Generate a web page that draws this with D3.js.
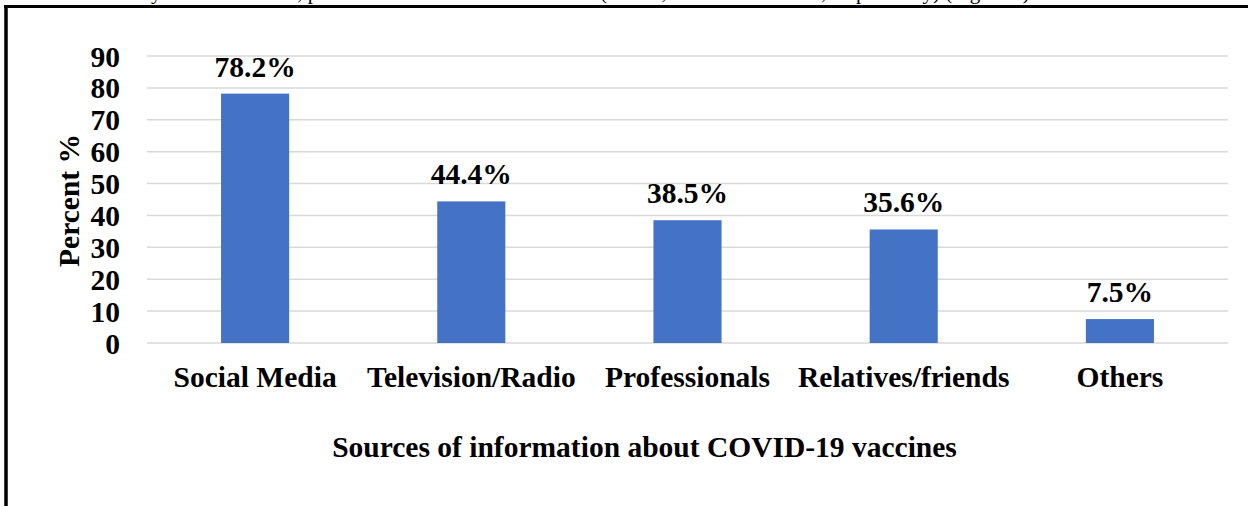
<!DOCTYPE html>
<html>
<head>
<meta charset="utf-8">
<script src="https://cdn.jsdelivr.net/npm/d3@7"></script>
<style>
html,body{margin:0;padding:0;background:#fff;}
svg{display:block;}
text{font-family:"Liberation Serif","Times New Roman",serif;font-weight:bold;fill:#000;}
</style>
</head>
<body>
<svg id="chart" width="1253" height="506"></svg>
<script>
const categories = ["Social Media", "Television/Radio", "Professionals", "Relatives/friends", "Others"];
const values = [78.2, 44.4, 38.5, 35.6, 7.5];
const valueLabels = ["78.2%", "44.4%", "38.5%", "35.6%", "7.5%"];
const yTicks = [0, 10, 20, 30, 40, 50, 60, 70, 80, 90];
const xTitle = "Sources of information about COVID-19 vaccines";
const yTitle = "Percent %";

const svg = d3.select("#chart");
const W = 1253, H = 506;
const plot = {left: 147, right: 1228, top: 56, bottom: 343};
const FS = "29.5px";

// clipped body text line above figure (only descenders visible, as in the reference)
svg.append("text")
  .attr("x", 1035).attr("y", -1)
  .attr("text-anchor", "end")
  .style("font-weight", "normal")
  .style("font-size", "21px")
  .text("followed by television/radio, professionals and relatives/friends (44.4%, 38.5% and 35.6%, respectively) (Figure 1).");

// frame
svg.append("line").attr("x1", 4).attr("x2", 1248).attr("y1", 6.5).attr("y2", 6.5)
  .attr("stroke", "#000").attr("stroke-width", 3);
svg.append("line").attr("x1", 6).attr("x2", 6).attr("y1", 5).attr("y2", H)
  .attr("stroke", "#000").attr("stroke-width", 3.5);

const x = d3.scaleBand().domain(categories).range([plot.left, plot.right])
  .paddingInner(0.685).paddingOuter(0.3425);
const y = d3.scaleLinear().domain([0, 90]).range([plot.bottom, plot.top]);

// gridlines
svg.append("g").selectAll("line").data(yTicks).join("line")
  .attr("x1", plot.left).attr("x2", plot.right)
  .attr("y1", d => y(d)).attr("y2", d => y(d))
  .attr("stroke", "#d9d9d9").attr("stroke-width", 1.5);

// y axis labels
const yAxis = d3.axisLeft(y).tickValues(yTicks).tickSize(0).tickPadding(0);
const yg = svg.append("g").attr("transform", `translate(120,0)`).call(yAxis);
yg.select(".domain").remove();
yg.selectAll("text").style("font-size", FS).attr("dy", "0.34em")
  .style("font-family", '"Liberation Serif","Times New Roman",serif');

// bars
svg.append("g").selectAll("rect").data(values).join("rect")
  .attr("x", (d, i) => x(categories[i]))
  .attr("width", x.bandwidth())
  .attr("y", d => y(d))
  .attr("height", d => y(0) - y(d))
  .attr("fill", "#4472c4");

// value labels
svg.append("g").selectAll("text").data(values).join("text")
  .attr("x", (d, i) => x(categories[i]) + x.bandwidth() / 2)
  .attr("y", d => y(d) - 17)
  .attr("text-anchor", "middle")
  .style("font-size", FS)
  .text((d, i) => valueLabels[i]);

// x axis labels
const xAxis = d3.axisBottom(x).tickSize(0).tickPadding(0);
const xg = svg.append("g").attr("transform", `translate(0,${plot.bottom})`).call(xAxis);
xg.select(".domain").remove();
xg.selectAll("text").attr("dy", null).attr("y", 44).style("font-size", FS)
  .style("font-family", '"Liberation Serif","Times New Roman",serif');

// axis titles
svg.append("text").attr("x", (plot.left + plot.right) / 2 - 43).attr("y", 457)
  .attr("text-anchor", "middle").style("font-size", FS).text(xTitle);
svg.append("text").attr("transform", `translate(79,${(plot.top + plot.bottom) / 2 + 1}) rotate(-90)`)
  .attr("text-anchor", "middle").style("font-size", FS).text(yTitle);
</script>
</body>
</html>
